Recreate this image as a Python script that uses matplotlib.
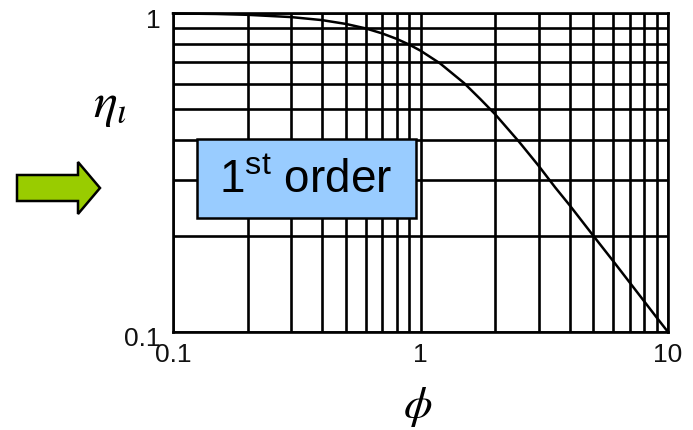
import matplotlib
matplotlib.use("Agg")
import matplotlib.pyplot as plt
import matplotlib.transforms as mtransforms
from matplotlib.patches import Rectangle, Polygon
from matplotlib.ticker import FixedLocator, NullFormatter

plt.rcParams['font.family'] = ['Liberation Sans', 'DejaVu Sans']
plt.rcParams['mathtext.fontset'] = 'custom'
plt.rcParams['mathtext.rm'] = 'Liberation Sans'

# Fin efficiency curve (first order)
phi = [0.1, 0.15, 0.2, 0.3, 0.4, 0.5, 0.6, 0.7, 0.8, 0.9, 1.0, 1.2, 1.5,
       1.75, 2.0, 2.5, 3.0, 3.5, 4.0, 5.0, 6.0, 7.0, 8.0, 9.0, 10.0]
eta = [0.997, 0.993, 0.987, 0.971, 0.950, 0.924, 0.895, 0.863, 0.830, 0.796,
       0.762, 0.695, 0.603, 0.536, 0.482, 0.395, 0.332, 0.284, 0.250, 0.200,
       0.167, 0.143, 0.125, 0.111, 0.100]

x_major = [0.1, 1, 10]
x_labels = ["0.1", "1", "10"]
y_major = [0.1, 1]
y_labels = ["0.1", "1"]
x_minor = [0.2, 0.3, 0.4, 0.5, 0.6, 0.7, 0.8, 0.9, 2, 3, 4, 5, 6, 7, 8, 9]
y_minor = [0.2, 0.3, 0.4, 0.5, 0.6, 0.7, 0.8, 0.9]

W, H = 693, 431
fig = plt.figure(figsize=(W / 100, H / 100), dpi=100)


def fx(px):
    return px / W


def fy(py):
    return 1 - py / H


left, right, top, bottom = 173, 668, 14, 333
ax = fig.add_axes([fx(left), fy(bottom), fx(right - left), (bottom - top) / H])
ax.set_xscale('log')
ax.set_yscale('log')
ax.set_xlim(0.1, 10)
ax.set_ylim(0.1, 1)

ax.xaxis.set_major_locator(FixedLocator(x_major))
ax.xaxis.set_minor_locator(FixedLocator(x_minor))
ax.yaxis.set_major_locator(FixedLocator(y_major))
ax.yaxis.set_minor_locator(FixedLocator(y_minor))
ax.set_xticklabels(x_labels)
ax.set_yticklabels(y_labels)
ax.xaxis.set_minor_formatter(NullFormatter())
ax.yaxis.set_minor_formatter(NullFormatter())
ax.tick_params(which='both', length=0, labelsize=19, colors='#111111')
ax.tick_params(axis='x', pad=7)
ax.tick_params(axis='y', pad=9)

# nudge the y tick labels slightly downward
shift = mtransforms.ScaledTranslation(0, -4 / 100, fig.dpi_scale_trans)
for lab in ax.get_yticklabels():
    lab.set_transform(lab.get_transform() + shift)

ax.grid(which='both', color='black', lw=1.9)
for s in ax.spines.values():
    s.set_color('black')
    s.set_linewidth(1.9)

ax.plot(phi, eta, color='black', lw=1.8, zorder=3, clip_on=False)

# Label box
bx0, bx1, by0, by1 = 197, 416, 140, 219
box = Rectangle((fx(bx0), fy(by1)), fx(bx1 - bx0), (by1 - by0) / H,
                transform=fig.transFigure, facecolor='#99CCFF',
                edgecolor='black', lw=1.8, zorder=5)
fig.patches.append(box)
fig.text(fx(306), fy(181), r'1$^{\mathrm{st}}$ order', fontsize=33,
         ha='center', va='center', zorder=6)

# Green arrow on the left
arrow_px = [(17, 176), (78, 176), (78, 163), (100, 189), (78, 215),
            (78, 202), (17, 202)]
arrow = Polygon([(fx(x), fy(y)) for x, y in arrow_px], closed=True,
                transform=fig.transFigure, facecolor='#99CC00',
                edgecolor='black', lw=1.8, zorder=5)
fig.patches.append(arrow)

# Axis symbols
fig.text(fx(110), fy(106), r'$\eta_\iota$', fontsize=36,
         math_fontfamily='stix', ha='center', va='center')
fig.text(fx(418), fy(407), r'$\phi$', fontsize=33,
         math_fontfamily='stix', ha='center', va='center')

fig.savefig('out.png', dpi=100)
